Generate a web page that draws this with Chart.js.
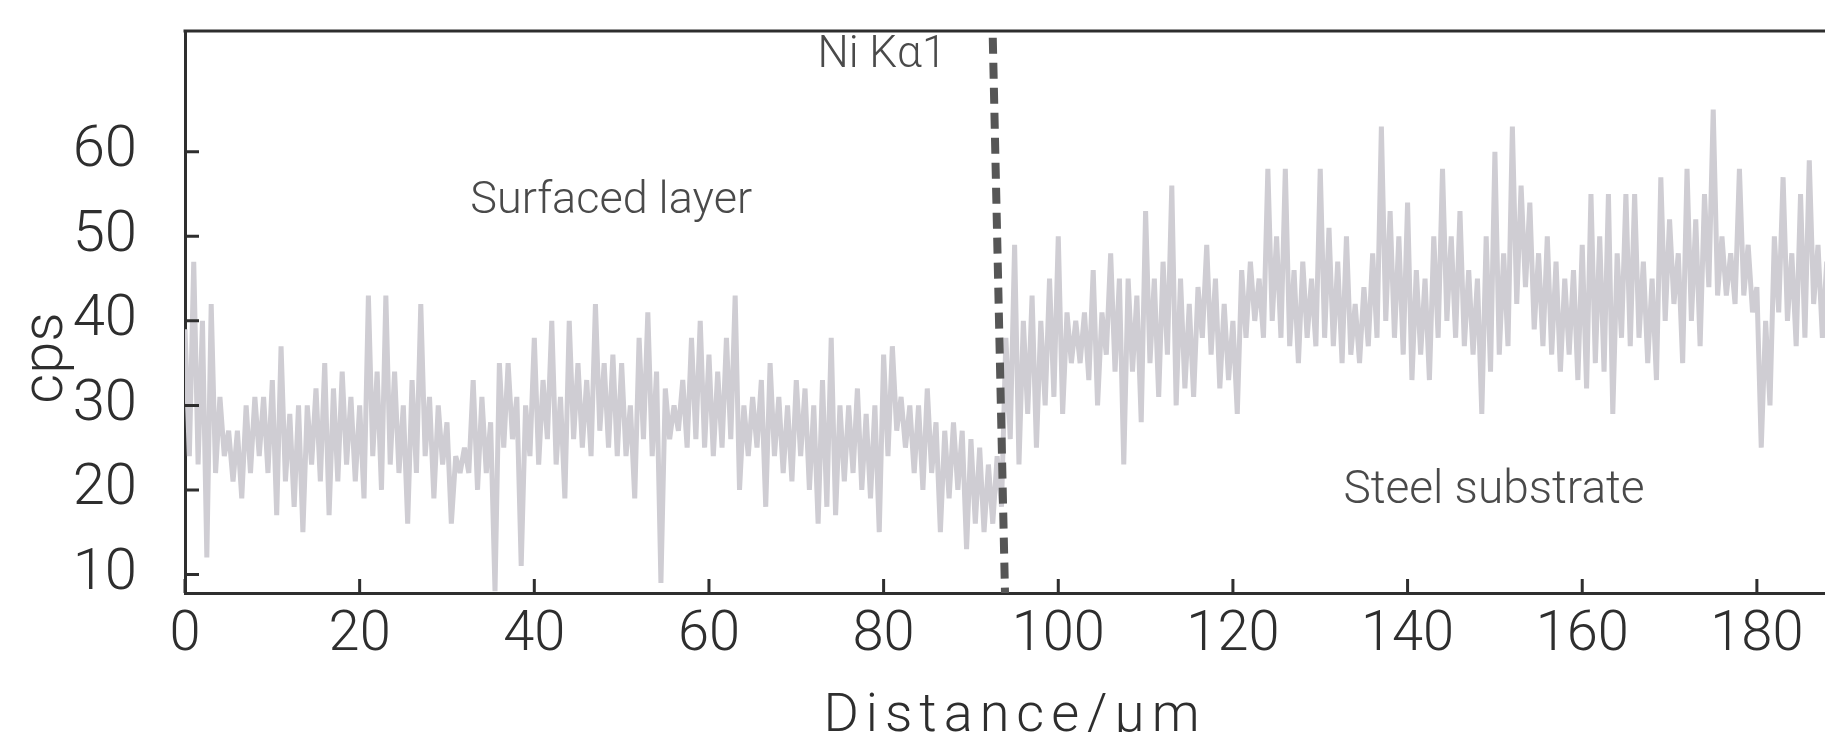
<!DOCTYPE html>
<html>
<head>
<meta charset="utf-8">
<style>
  html, body { margin: 0; padding: 0; background: #fff; }
  #wrap { width: 1825px; height: 732px; }
</style>
<script src="https://cdn.jsdelivr.net/npm/chart.js@4/dist/chart.umd.min.js"></script>
</head>
<body>
<div id="wrap"><canvas id="linescan"></canvas></div>
<script>
// Ni Ka1 line scan, cps every 0.5 um
const STEP = 0.5;
const surfacedLayer = [
  39,24, 47,23, 40,12, 42,22, 31,24, 27,21, 27,19, 30,22, 31,24, 31,22,
  33,17, 37,21, 29,18, 30,15, 30,23, 32,21, 35,17, 32,21, 34,23, 31,21,
  30,19, 43,24, 34,20, 43,23, 34,22, 30,16, 33,22, 42,24, 31,19, 30,23,
  28,16, 24,22, 25,22, 33,20, 31,22, 28,8, 35,25, 35,26, 31,11, 30,24,
  38,23, 33,26, 40,23, 31,19, 40,26, 35,25, 33,24, 42,27, 35,25, 36,24,
  35,24, 30,19, 38,26, 41,24, 34,9, 32,26, 30,27, 33,25, 38,26, 40,25,
  36,24, 34,25, 38,26, 43,20, 30,24, 31,25, 33,18, 35,24, 31,22, 30,21,
  33,24, 32,20, 30,16, 33,18, 38,17, 30,21, 30,22, 32,20, 29,19, 30,15,
  36,24, 37,27, 31,25, 30,22, 30,20, 32,22, 28,15, 27,19, 28,20, 27,13,
  26,16, 25,15, 23,16, 24
];
const steelSubstrate = [
  18,
  38,26, 49,23, 40,29, 43,25, 40,30, 45,31,
  50,29, 41,35, 40,35, 41,33, 46,30, 41,36, 48,34, 45,23, 45,34, 43,28,
  53,35, 45,31, 47,36, 56,30, 45,32, 42,31, 44,38, 49,36, 45,32, 42,33,
  40,29, 46,38, 47,40, 45,38, 58,40, 50,38, 58,37, 46,35, 47,38, 45,37,
  58,38, 51,37, 47,35, 50,36, 42,35, 44,37, 48,38, 63,40, 53,38, 50,36,
  54,33, 46,36, 45,33, 50,38, 58,40, 50,38, 53,37, 46,36, 45,29, 50,34,
  60,36, 48,37, 63,42, 56,44, 54,39, 48,37, 50,36, 47,34, 45,36, 46,33,
  49,32, 55,35, 50,34, 55,29, 48,38, 55,37, 55,38, 47,35, 45,33, 57,40,
  52,42, 48,35, 58,40, 52,37, 55,44, 65,43, 50,43, 48,42, 58,43, 49,41,
  44,25, 40,30, 50,41, 57,40, 48,37, 55,38, 59,42, 49,38,
  47
];
const xTicks = [0, 20, 40, 60, 80, 100, 120, 140, 160, 180];
const yTicks = [10, 20, 30, 40, 50, 60];
// boundary marker (um, cps)
const interfaceLine = [{x: 92.5, y: 73.5}, {x: 93.9, y: 7.8}];
const notes = [
  {text: 'Ni K\u03b11', x: 79.8, y: 71.4, size: 44},
  {text: 'Surfaced layer', x: 48.8, y: 54.1, size: 45},
  {text: 'Steel substrate', x: 149.9, y: 19.8, size: 46}
];

const FONT = "Roboto, 'Liberation Sans', Arial, sans-serif";
const INK = '#2e2e2e';

const counts = surfacedLayer.concat(steelSubstrate);
const trace = counts.map((v, i) => ({x: i * STEP, y: v}));

const frameAndText = {
  id: 'frameAndText',
  afterDraw(chart) {
    const {ctx, chartArea: a, scales: {x, y}} = chart;
    ctx.save();
    ctx.strokeStyle = INK;
    ctx.lineWidth = 3;
    ctx.beginPath();
    ctx.moveTo(a.left - 1.5, a.top);
    ctx.lineTo(a.right, a.top);
    // inward tick marks
    x.ticks.forEach(t => {
      const px = x.getPixelForValue(t.value);
      ctx.moveTo(px, a.bottom);
      ctx.lineTo(px, a.bottom - 14);
    });
    y.ticks.forEach(t => {
      const py = y.getPixelForValue(t.value);
      ctx.moveTo(a.left, py);
      ctx.lineTo(a.left + 14, py);
    });
    ctx.stroke();

    ctx.fillStyle = '#4a4a4a';
    ctx.textAlign = 'center';
    ctx.textBaseline = 'middle';
    notes.forEach(n => {
      ctx.font = '300 ' + n.size + 'px ' + FONT;
      ctx.fillText(n.text, x.getPixelForValue(n.x), y.getPixelForValue(n.y));
    });

    // axis titles
    ctx.fillStyle = INK;
    ctx.textBaseline = 'alphabetic';
    ctx.font = '300 58px ' + FONT;
    ctx.save();
    ctx.translate(62, 358);
    ctx.rotate(-Math.PI / 2);
    ctx.fillText('cps', 0, 0);
    ctx.restore();
    ctx.font = '300 54px ' + FONT;
    ctx.letterSpacing = '7px';
    ctx.fillText('Distance/\u03bcm', 1015, 731);
    ctx.restore();
  }
};

new Chart(document.getElementById('linescan'), {
  type: 'line',
  data: {
    datasets: [{
      label: 'Ni K\u03b11',
      data: trace,
      borderColor: '#cfcdd3',
      borderWidth: 5,
      borderJoinStyle: 'bevel',
      pointRadius: 0,
      tension: 0,
      order: 2
    }, {
      label: 'interface',
      data: interfaceLine,
      borderColor: '#565656',
      borderWidth: 8,
      borderDash: [16, 9],
      borderCapStyle: 'butt',
      pointRadius: 0,
      order: 1
    }]
  },
  options: {
    responsive: true,
    maintainAspectRatio: false,
    animation: false,
    events: [],
    layout: {padding: {top: 31, right: 0, bottom: 0, left: 0}},
    plugins: {legend: {display: false}, tooltip: {enabled: false}},
    scales: {
      x: {
        type: 'linear',
        min: 0,
        max: 187.8,
        afterBuildTicks: s => { s.ticks = xTicks.map(v => ({value: v})); },
        afterFit: s => { s.height = 139; s.paddingLeft = 0; s.paddingRight = 0; },
        grid: {display: false, drawTicks: false},
        border: {display: true, color: INK, width: 3},
        ticks: {
          padding: 9,
          color: INK,
          maxRotation: 0,
          autoSkip: false,
          font: {family: FONT, size: 56, weight: 300}
        }
      },
      y: {
        min: 7.8,
        max: 74.3,
        afterBuildTicks: s => { s.ticks = yTicks.map(v => ({value: v})); },
        afterFit: s => { s.width = 185; s.paddingTop = 0; s.paddingBottom = 0; },
        grid: {display: false, drawTicks: false},
        border: {display: true, color: INK, width: 3},
        ticks: {
          padding: 48,
          color: INK,
          font: {family: FONT, size: 58, weight: 300}
        }
      }
    }
  },
  plugins: [frameAndText]
});
</script>
</body>
</html>
